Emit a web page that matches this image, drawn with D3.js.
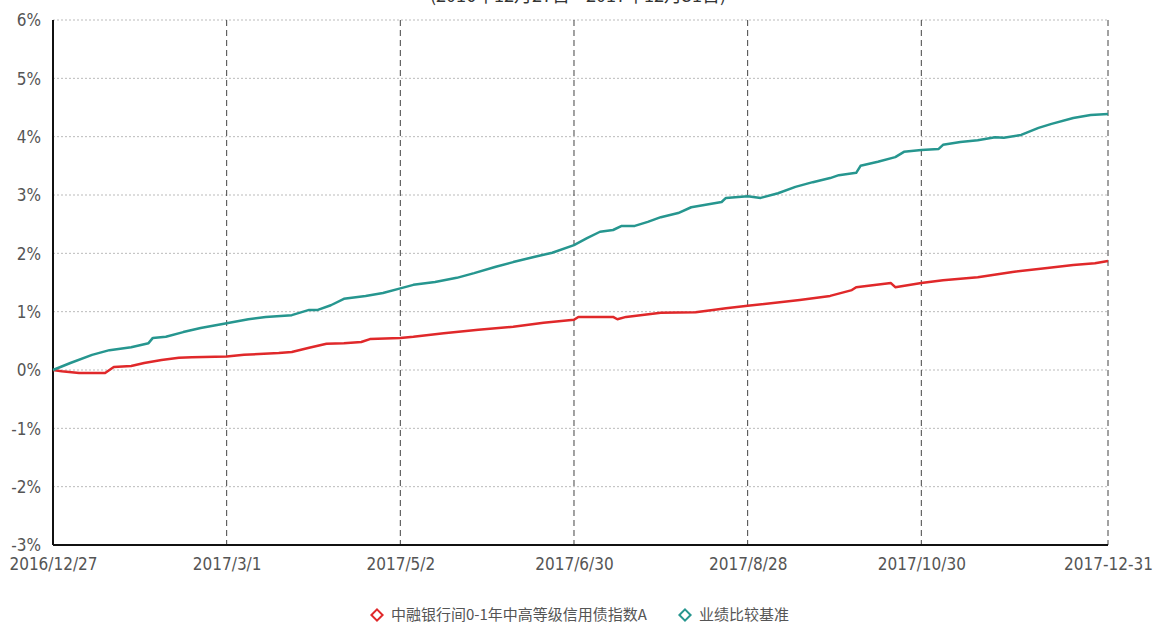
<!DOCTYPE html>
<html>
<head>
<meta charset="utf-8">
<script src="https://cdn.jsdelivr.net/npm/d3@7"></script>
<style>
  html, body { margin: 0; padding: 0; background: #fff; }
  svg { display: block; }
  .tick text { font-family: "DejaVu Sans Condensed", "DejaVu Sans", sans-serif; fill: #555; }
</style>
</head>
<body>
<svg id="chart" width="1154" height="629"></svg>
<script>
/* ---------------- DATA ---------------- */
const title = "(2016年12月27日—2017年12月31日)";
const seriesNames = ["中融银行间0-1年中高等级信用债指数A", "业绩比较基准"];
const seriesColors = ["#e0282a", "#26968f"];

// x tick positions (trading-day index) and their labels
const tickIndex = [0, 40, 80, 120, 160, 200, 243];
const tickLabels = ["2016/12/27", "2017/3/1", "2017/5/2", "2017/6/30", "2017/8/28", "2017/10/30", "2017-12-31"];
const yTicks = [-3, -2, -1, 0, 1, 2, 3, 4, 5, 6];

// fund index: [trading-day index, cumulative return %]
const fundIndex = [
  [0, 0.00], [2, -0.02], [6, -0.05], [12, -0.05], [14, 0.05], [18, 0.07], [21, 0.12],
  [25, 0.17], [29, 0.21], [32, 0.22], [40, 0.23], [44, 0.26], [52, 0.29], [55, 0.31],
  [59, 0.38], [63, 0.45], [67, 0.46], [71, 0.48], [73, 0.53], [80, 0.55], [83, 0.57],
  [90, 0.63], [98, 0.69], [106, 0.74], [113, 0.81], [120, 0.86], [121, 0.91], [129, 0.91],
  [130, 0.87], [132, 0.91], [140, 0.98], [148, 0.99], [152, 1.03], [155, 1.06], [160, 1.10],
  [172, 1.20], [179, 1.27], [184, 1.37], [185, 1.42], [193, 1.49], [194, 1.42], [200, 1.49],
  [205, 1.54], [213, 1.59], [221, 1.68], [229, 1.75], [235, 1.80], [240, 1.83], [243, 1.87]
];

// benchmark: [trading-day index, cumulative return %]
const benchmark = [
  [0, 0.00], [4, 0.12], [9, 0.26], [13, 0.34], [18, 0.39], [22, 0.46], [23, 0.55],
  [26, 0.57], [30, 0.65], [34, 0.72], [40, 0.80], [45, 0.87], [49, 0.91], [55, 0.94],
  [59, 1.03], [61, 1.03], [64, 1.11], [67, 1.22], [72, 1.27], [76, 1.32], [80, 1.40],
  [83, 1.46], [88, 1.51], [93, 1.58], [97, 1.66], [102, 1.77], [106, 1.85], [111, 1.94],
  [115, 2.01], [120, 2.14], [123, 2.26], [126, 2.37], [129, 2.40], [131, 2.47], [134, 2.47],
  [137, 2.54], [140, 2.62], [144, 2.69], [147, 2.79], [150, 2.83], [154, 2.88], [155, 2.95],
  [160, 2.98], [163, 2.95], [167, 3.03], [171, 3.14], [175, 3.22], [179, 3.29], [181, 3.34],
  [185, 3.38], [186, 3.50], [190, 3.57], [194, 3.65], [196, 3.74], [200, 3.77], [204, 3.79],
  [205, 3.86], [209, 3.91], [213, 3.94], [217, 3.99], [219, 3.98], [223, 4.03], [227, 4.15],
  [230, 4.22], [235, 4.32], [239, 4.37], [243, 4.39]
];

/* ---------------- SETUP ---------------- */
const svg = d3.select("#chart");
const plotLeft = 53, plotRight = 1108, plotTop = 20, plotBottom = 545;

const x = d3.scaleLinear().domain([0, 243]).range([plotLeft, plotRight]);
const y = d3.scaleLinear().domain([-3, 6]).range([plotBottom, plotTop]);

/* title, cut off at the top edge like the original */
svg.append("text")
  .attr("x", 578)
  .attr("y", 2)
  .attr("text-anchor", "middle")
  .attr("font-family", "Noto Sans CJK SC, sans-serif")
  .attr("font-size", 18)
  .attr("fill", "#333")
  .text(title);

/* ---------------- GRID ---------------- */
svg.append("g")
  .selectAll("line")
  .data(yTicks)
  .enter()
  .append("line")
  .attr("x1", plotLeft).attr("x2", plotRight)
  .attr("y1", d => y(d)).attr("y2", d => y(d))
  .attr("stroke", "#bbb")
  .attr("stroke-dasharray", "2,2");

svg.append("g")
  .selectAll("line")
  .data(tickIndex.slice(1))
  .enter()
  .append("line")
  .attr("x1", d => x(d)).attr("x2", d => x(d))
  .attr("y1", plotTop).attr("y2", plotBottom)
  .attr("stroke", "#444")
  .attr("stroke-dasharray", "6,4");

/* ---------------- AXES ---------------- */
const yAxis = svg.append("g")
  .attr("transform", `translate(${plotLeft - 9},0)`)
  .call(d3.axisLeft(y).tickValues(yTicks).tickSize(0).tickFormat(d => d + "%"));
yAxis.select(".domain").remove();
yAxis.selectAll("text").attr("font-size", 17).attr("dy", "0.35em");

const xAxis = svg.append("g")
  .attr("transform", `translate(0,${plotBottom + 6})`)
  .call(d3.axisBottom(x).tickValues(tickIndex).tickSize(0).tickFormat((d, i) => tickLabels[i]));
xAxis.select(".domain").remove();
xAxis.selectAll("text").attr("font-size", 17).attr("dy", "0.95em");

svg.append("line")
  .attr("x1", plotLeft).attr("x2", plotLeft).attr("y1", plotTop).attr("y2", plotBottom)
  .attr("stroke", "#111").attr("stroke-width", 2);
svg.append("line")
  .attr("x1", plotLeft).attr("x2", plotRight).attr("y1", plotBottom).attr("y2", plotBottom)
  .attr("stroke", "#111").attr("stroke-width", 2);

/* ---------------- LINES ---------------- */
const line = d3.line()
  .x(d => x(d[0]))
  .y(d => y(d[1]));

[fundIndex, benchmark].forEach((data, i) => {
  svg.append("path")
    .datum(data)
    .attr("fill", "none")
    .attr("stroke", seriesColors[i])
    .attr("stroke-width", 2.5)
    .attr("stroke-linejoin", "round")
    .attr("d", line);
});

/* ---------------- LEGEND ---------------- */
const legendX = [377, 685];
const legend = svg.append("g")
  .selectAll("g")
  .data(seriesNames)
  .enter()
  .append("g")
  .attr("transform", (d, i) => `translate(${legendX[i]},615)`);

legend.append("path")
  .attr("d", d3.symbol().type(d3.symbolDiamond2).size(80))
  .attr("fill", "#fff")
  .attr("stroke", (d, i) => seriesColors[i])
  .attr("stroke-width", 2);

legend.append("text")
  .attr("x", 14)
  .attr("dy", "0.35em")
  .attr("font-family", "Noto Sans CJK SC, sans-serif")
  .attr("font-size", 15)
  .attr("fill", "#555")
  .text(d => d);
</script>
</body>
</html>
